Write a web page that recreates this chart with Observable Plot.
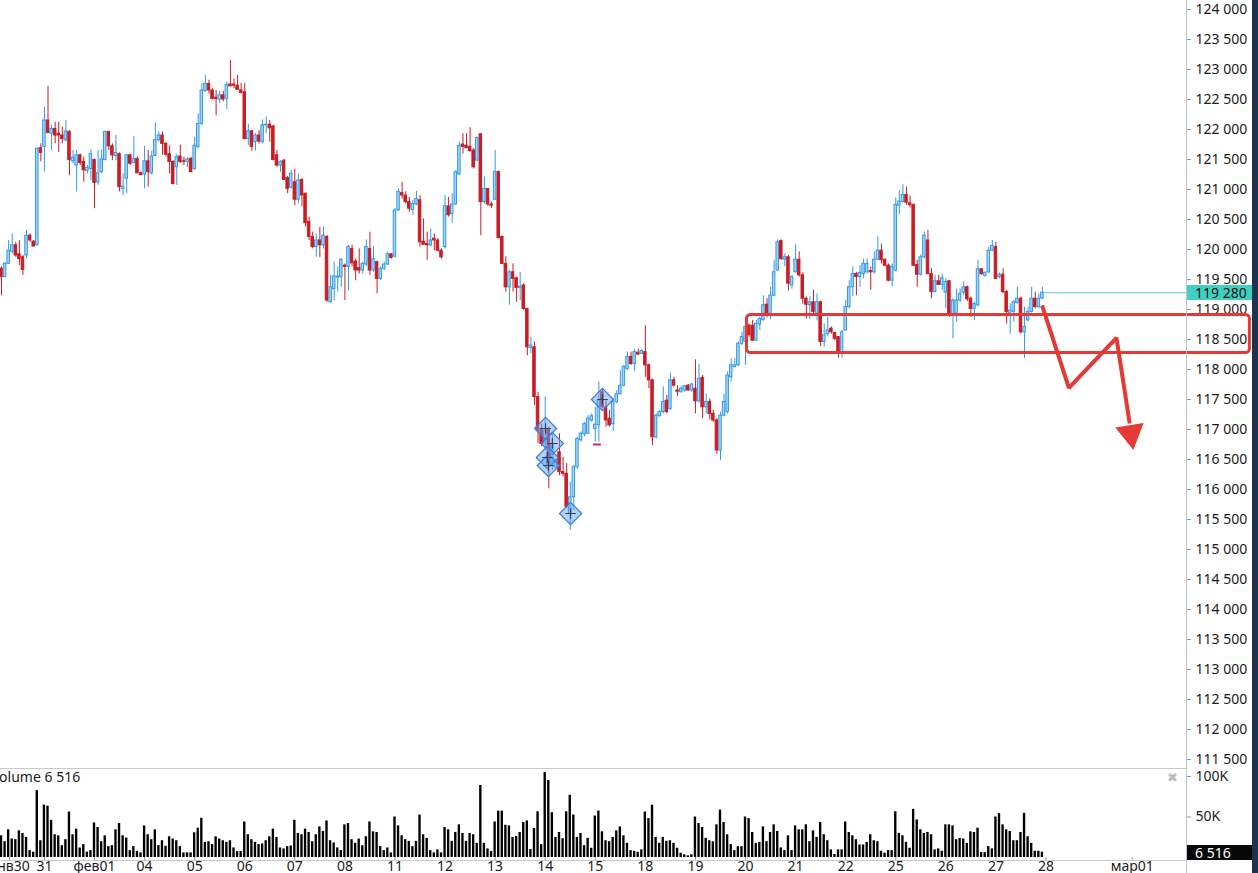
<!DOCTYPE html>
<html><head><meta charset="utf-8">
<script src="https://cdn.jsdelivr.net/npm/d3@7"></script>
<script src="https://cdn.jsdelivr.net/npm/@observablehq/plot@0.6"></script>
<style>
html,body{margin:0;padding:0;background:#fff;overflow:hidden}
#wrap{position:relative;width:1258px;height:873px;overflow:hidden;font-family:"Noto Sans",sans-serif;color:#1b1b1b}
#wrap svg{display:block}
.ov{position:absolute;white-space:nowrap}
</style></head><body><div id="wrap"></div>
<script>
// ---------- data (hourly candles, index 0..291) ----------
const open = [
119680,119540,119760,119960,120070,119920,119870,119900,120230,120130,
120070,121690,121710,122150,121930,122010,121930,121900,121820,121960,
121470,121400,121570,121460,121310,121340,121490,121120,121290,121490,
121960,121720,121560,121590,121010,121180,121570,121440,121510,121270,
121250,121470,121270,121560,121820,121900,121760,121590,121460,121370,
121550,121470,121460,121510,121340,121710,122090,122640,122760,122650,
122530,122500,122570,122510,122750,122750,122730,122650,122620,121840,
121970,121790,121900,121790,122070,122080,122050,121570,121400,121480,
121190,121030,121120,120830,121160,120930,120460,120210,120040,120150,
120070,120210,119120,119340,119530,119540,119730,119710,120010,119800,
119690,119650,119750,120010,119650,119790,119510,119680,119750,119920,
119880,120650,120940,120900,120790,120660,120750,120820,120130,120090,
120070,120180,120150,119980,120040,120720,120590,120750,121250,121750,
121730,121710,121650,121480,121920,120790,121010,120750,120830,121290,
120210,119760,119370,119620,119520,119360,119400,119010,118360,118370,
117540,117010,116760,117010,116400,116370,116620,116290,116260,115590,
115870,116370,116820,116920,116930,117150,117010,117070,117620,117370,
117180,117090,117460,117590,117730,118010,118210,118090,118280,118260,
118290,118070,117820,116870,117220,117290,117480,117340,117820,117650,
117620,117650,117730,117650,117680,117470,117860,117370,117460,117260,
117150,116650,117230,117290,117870,118040,118070,118430,118460,118730,
118730,118480,118750,118820,119080,118900,119230,119650,120140,119830,
119870,119400,119620,119830,119570,119180,119070,119120,118930,119120,
118460,118590,118680,118610,118540,118260,118650,119040,119370,119590,
119540,119590,119620,119640,119620,119830,119980,119830,119730,119480,
119650,120730,120790,120910,120770,120740,119740,119580,119870,120150,
119590,119290,119470,119410,119280,119470,118900,118930,119150,119280,
119370,119180,119010,119070,119670,119560,119620,119980,120040,119540,
119580,119290,118930,118960,119110,119180,118620,118820,118960,119180,
119040,119180];
const high = [
119710,119790,120150,120260,120120,120150,119900,120320,120260,120150,
121690,121760,122370,122720,122070,122120,122120,122040,122150,121980,
121650,121650,121590,121540,121400,121660,121510,121650,121660,121970,
121970,121760,121900,121610,121260,121570,121590,121880,121540,121290,
121720,121650,121640,122110,121960,121960,121790,121730,121480,121580,
121740,121540,121530,121540,121870,122260,122760,122900,122820,122680,
122650,122640,122640,122790,123150,122840,122900,122770,122770,122090,
121980,121930,121980,122160,122210,122150,122070,121650,121480,121500,
121220,121320,121340,121260,121180,120940,120540,120290,120260,120370,
120380,120230,119570,119790,119710,119840,119760,120070,120070,119840,
120010,119790,120160,120290,120050,119790,119710,119790,119960,119930,
120680,121010,121120,120960,120870,120820,120970,120900,120510,120290,
120340,120260,120180,120010,120900,120870,120930,121310,121790,121930,
121930,122030,121680,121870,121930,121210,121010,120790,121650,121310,
120220,119880,119650,119760,119540,119620,119430,119010,118540,118460,
117620,117090,117540,117040,116930,116510,116930,116540,116430,116120,
116400,116870,116960,117120,117230,117260,117370,117790,117680,117480,
117320,117510,117650,117980,118070,118290,118290,118340,118340,118330,
118730,118090,117840,117260,117320,117710,117570,117940,117870,117730,
117720,117730,117750,117770,118160,118090,117900,117590,117510,117320,
117180,117290,117590,117960,118180,118180,118460,118620,118760,118760,
118820,118820,118870,119230,119180,119370,119820,120160,120160,119930,
119900,119570,120080,119960,119610,119210,119210,119320,119260,119140,
118760,118870,118710,118620,118550,118650,119150,119480,119710,119620,
119730,119840,119840,119710,119960,120210,120090,119840,119760,119760,
120860,120980,121080,121040,120890,120760,119820,119910,120290,120320,
119680,119570,119570,119590,119510,119480,119180,119340,119340,119460,
119390,119210,119120,119820,119680,119630,120040,120150,120120,119610,
119680,119320,119090,119150,119370,119210,119040,119040,119370,119290,
119260,119370];
const low = [
119230,119530,119750,119930,119870,119730,119570,119840,120120,120040,
120060,121460,121290,121930,121650,121760,121620,121760,121790,121230,
121430,120960,121400,121120,121260,121150,120680,121070,121260,121480,
121650,121480,121480,120960,120900,120930,121400,121430,121260,121230,
121010,121040,121240,121540,121790,121570,121540,121260,121080,121070,
121430,121400,121370,121280,121320,121680,122070,122620,122590,122490,
122230,122430,122460,122330,122710,122680,122650,122590,121830,121730,
121640,121640,121760,121760,121930,121790,121480,121370,121290,121150,
120930,121010,120730,120760,120710,120370,120150,120010,119870,119870,
120010,119120,119110,119150,119290,119370,119150,119310,119710,119480,
119590,119590,119720,119570,119620,119260,119480,119650,119730,119840,
119860,120640,120840,120760,120620,120570,120730,120040,120070,119820,
120040,119980,119960,119840,120010,120540,120440,120730,121230,121590,
121680,121620,121340,121470,120230,120760,120720,120680,120820,120180,
119750,119290,119070,119290,119120,119150,118980,118230,118260,117400,
116760,116710,116650,116010,116320,116340,116230,116210,115680,115320,
115650,116340,116790,116880,116920,117120,116790,116790,117340,117040,
117040,116970,117430,117570,117710,117980,118070,117970,118230,118250,
117870,117680,116730,116840,117210,117260,117260,117320,117710,117550,
117610,117620,117640,117620,117260,117440,117180,117260,117160,117120,
116590,116480,117210,117260,117790,118030,118050,118400,118070,118540,
118470,118470,118650,118810,118860,118830,119210,119640,119820,119710,
119310,119340,119610,119540,119090,118840,118830,118930,118810,118380,
118370,118550,118590,118480,118190,118190,118640,119010,119210,119230,
119370,119510,119590,119320,119590,119820,119760,119710,119460,119380,
119630,120580,120780,120740,120690,119710,119370,119560,119840,119580,
119180,119280,119400,119320,119010,118870,118510,118790,119120,119230,
119130,118870,118820,119040,119570,119540,119590,119970,119500,119510,
119260,118760,118590,118790,119090,118590,118180,118790,118940,119010,
119010,119170];
const close = [
119540,119760,119980,120070,119900,119840,119660,120230,120150,120050,
121680,121610,122150,121940,122010,121900,121900,121840,121970,121490,
121530,121570,121440,121320,121360,121590,121110,121270,121500,121960,
121720,121570,121610,121040,121050,121570,121430,121510,121270,121240,
121470,121290,121550,121820,121900,121760,121580,121460,121090,121540,
121460,121460,121500,121290,121730,122090,122650,122760,122650,122510,
122510,122570,122500,122740,122720,122730,122660,122610,121840,121970,
121710,121900,121800,122070,122080,122020,121490,121400,121460,121160,
121010,121260,120830,121150,120900,120440,120210,120040,120150,120070,
120230,119150,119370,119550,119550,119830,119710,120040,119770,119650,
119650,119760,120040,119650,119840,119510,119680,119750,119920,119860,
120650,120960,120900,120790,120680,120760,120840,120120,120080,120070,
120150,120150,119980,119870,120720,120570,120750,121290,121730,121710,
121690,121640,121370,121860,120790,121010,120750,120730,121290,120190,
119760,119370,119620,119510,119360,119380,119010,118370,118400,117540,
116980,116760,116980,116400,116760,116460,116290,116260,115710,115870,
116370,116840,116930,117090,117180,117220,117080,117480,117370,117150,
117070,117460,117590,117730,118040,118210,118090,118290,118250,118310,
118070,117820,116870,117230,117290,117460,117290,117820,117730,117630,
117680,117720,117650,117750,117470,117840,117370,117460,117260,117150,
116650,117230,117460,117900,118070,118070,118430,118540,118710,118570,
118480,118760,118840,119070,118900,119230,119620,120120,119840,119870,
119430,119540,119830,119570,119180,119080,119120,118960,119120,118460,
118570,118650,118620,118510,118260,118620,119040,119370,119590,119540,
119610,119760,119760,119620,119830,119980,119820,119730,119480,119710,
120740,120800,120910,120780,120740,119730,119580,119870,120230,119590,
119290,119470,119410,119520,119460,118900,119150,119150,119260,119370,
119170,119010,119090,119670,119590,119610,119980,120060,119510,119580,
119290,118960,118980,119120,119180,118620,118710,118960,119180,119040,
119180,119280];
const volume = [
26800,19500,34200,22800,22000,32900,29700,24800,8500,6500,
82500,20700,64600,63400,45900,28100,26800,14600,22000,56100,
28100,35000,11800,15900,6500,8500,42700,37000,19500,26800,
13400,14600,34200,41900,26800,24000,8500,13400,7700,5700,
39000,28100,22000,34200,14600,20700,13800,25600,22800,20700,
13400,5700,5700,5700,30500,36200,48400,18700,19500,15900,
25600,22800,20700,18700,20700,11800,7300,7300,43900,28100,
22000,18700,15900,16700,20700,25600,35000,24800,11800,10600,
13400,14200,45900,29700,28100,35000,30900,19500,28100,37800,
32100,45100,20700,17900,11800,8500,40300,41900,22000,17500,
22800,14600,25600,43900,31700,30900,13400,8500,11800,5700,
50000,39000,
26800,22000,19900,13400,19900,52400,28100,23600,
8500,5700,9400,5700,37000,34200,19900,30900,40300,29700,
19900,29700,28100,17500,89000,17500,10600,7300,43900,57300,
57300,39800,39000,24800,26000,30900,43100,45100,9800,35800,
56500,15900,104900,95100,55300,24800,30900,23200,56500,76800,
52400,24800,29700,14600,23600,11400,51200,57300,31700,20700,
19500,24800,32900,37800,26800,17500,8500,7700,6500,9400,
56100,48000,64600,24800,17500,24800,19900,20700,17500,11400,
5300,3300,2000,3300,50000,41900,37000,23600,20700,19500,
40300,58500,43100,28100,15900,8500,13400,13400,50000,48000,
30900,17500,18700,37800,19500,30900,40300,32100,11800,8500,
26800,8500,39000,34200,
34200,40300,19500,32900,24800,43100,28100,20700,9400,3700,
9400,9400,43900,30900,26800,22000,15500,15500,18700,28100,
20700,19500,7700,5300,8500,8500,56500,29700,26800,18700,
11400,59400,46300,34200,29700,30900,28100,9400,10600,7700,
40300,40300,39000,22000,23600,22800,17500,31700,30900,36200,
6100,6100,13400,10600,50000,54100,40300,34200,32100,20700,
20700,30900,54500,25600,17500,7700,7700,6516];

const dayLabels = ["янв30","31","фев01","04","05","06","07","08","11","12","13","14","15","18","19","20","21","22","25","26","27","28","мар01"];
const dayTickIdx = [2.2,12,26,40,54,68,82,96,110,124,138,152,166,180,194,208,222,236,250,264,278,292,316.1];
const priceTicks = d3.range(111500, 124001, 500);
const volTicks = [50000, 100000];
const lastPrice = 119280;
const lastVolume = 6516;

// signal markers (diamonds) : bar index & price
const markIdx   = [152.1, 154.0, 152.6, 152.9, 159.1, 168.0];
const markPrice = [117017, 116767, 116533, 116400, 115600, 117500];
// small red dash
const dashIdx = [165.5, 167.7];
const dashPrice = 116750;
// drawn annotations: support zone and forecast arrow
const zoneIdx = [208.4, 349];
const zonePrice = [118910, 118275];
const arrowIdx = [290.9, 298.4, 311.7, 315.4];
const arrowPrice = [119067, 117695, 118528, 117100];
const headIdx = 315.7, headPrice = 116933, headRotate = 171;

// ---------- build ----------
const W = 1258, PRICE_H = 768, VOL_H = 105, MR = 72;
const xDomain = [-0.28, 331.28];
const priceDomain = [111350, 124150];
const RED = "#c91d25", BLUE = "#3399e6", BLUE_FILL = "#a8d4f6";
const fmt = d => d3.format(",")(d).replace(/,/g, " ");

const candles = open.map((o, i) => ({i, open: o, high: high[i], low: low[i], close: close[i], up: close[i] >= o}));
const ups = candles.filter(d => d.up), downs = candles.filter(d => !d.up);
const bars = volume.map((v, i) => ({i, v}));
const marks = markIdx.map((x, k) => ({x, y: markPrice[k]}));
const arrow = arrowIdx.map((x, k) => ({x, y: arrowPrice[k]}));
const labelMap = new Map(dayTickIdx.map((t, k) => [t, dayLabels[k]]));
const lastIdx = candles.length - 1;

const baseStyle = {fontFamily: "Noto Sans, sans-serif", fontSize: "14px", color: "#1b1b1b", background: "transparent"};

const price = Plot.plot({
  width: W, height: PRICE_H, marginLeft: 0, marginRight: MR, marginTop: 0, marginBottom: 0,
  x: {domain: xDomain, axis: null},
  y: {domain: priceDomain, axis: null},
  style: baseStyle,
  marks: [
    Plot.axisY({anchor: "right", label: null, ticks: priceTicks, tickFormat: fmt, tickSize: 4, tickPadding: 5, stroke: "#9a9a9a", fill: "#1b1b1b", fontSize: 14}),
    Plot.ruleX(downs, {x: "i", y1: "low", y2: "high", stroke: RED, strokeWidth: 1}),
    Plot.rect(downs, {x1: d => d.i - 0.35, x2: d => d.i + 0.35, y1: "open", y2: "close", fill: RED, stroke: RED, strokeWidth: 1}),
    Plot.ruleX(ups, {x: "i", y1: "low", y2: "high", stroke: BLUE, strokeWidth: 1}),
    Plot.rect(ups, {x1: d => d.i - 0.35, x2: d => d.i + 0.35, y1: "open", y2: "close", fill: BLUE_FILL, stroke: BLUE, strokeWidth: 1}),
    Plot.ruleY([dashPrice], {x1: dashIdx[0], x2: dashIdx[1], stroke: "#d8245c", strokeWidth: 2}),
    Plot.dot(marks, {x: "x", y: "y", symbol: "diamond2", r: 10, fill: "#64a6f0", fillOpacity: 0.5, stroke: "#3b7ad6", strokeWidth: 1.2}),
    Plot.dot(marks, {x: "x", y: "y", symbol: "plus", r: 3.5, stroke: "#3a3f5c", strokeWidth: 1.2}),
    Plot.ruleY([lastPrice], {x1: lastIdx + 0.6, x2: xDomain[1], stroke: "#5cc9d6", strokeWidth: 1}),
    Plot.rect([0], {x1: zoneIdx[0], x2: zoneIdx[1], y1: zonePrice[0], y2: zonePrice[1], fill: "none", stroke: "#e53935", strokeWidth: 3, rx: 4}),
    Plot.line(arrow, {x: "x", y: "y", stroke: "#e53935", strokeWidth: 4, strokeLinejoin: "miter", strokeLinecap: "butt"}),
    Plot.dot([0], {x: headIdx, y: headPrice, symbol: "triangle", r: 10, fill: "#e53935", stroke: "#e53935", strokeWidth: 1, rotate: headRotate})
  ]
});

const vol = Plot.plot({
  width: W, height: VOL_H, marginLeft: 0, marginRight: MR, marginTop: 8, marginBottom: 16,
  x: {domain: xDomain, axis: null},
  y: {domain: [0, 100000], axis: null},
  style: baseStyle,
  marks: [
    Plot.rect(bars, {x1: d => d.i - 0.33, x2: d => d.i + 0.33, y1: 0, y2: "v", fill: "#000"}),
    Plot.axisY({anchor: "right", label: null, ticks: volTicks, tickFormat: d => d / 1000 + "K", tickSize: 4, tickPadding: 5, stroke: "#9a9a9a", fill: "#1b1b1b", fontSize: 14}),
    Plot.axisX({anchor: "bottom", label: null, ticks: dayTickIdx, tickFormat: d => labelMap.get(d), tickSize: 3, tickPadding: 1, stroke: "#9a9a9a", fill: "#1b1b1b", fontSize: 14})
  ]
});

const wrap = document.getElementById("wrap");
wrap.appendChild(price);
wrap.appendChild(vol);

const xs = price.scale("x"), ys = price.scale("y"), vs = vol.scale("y");
const axisX = xs.apply(xDomain[1]);
function ov(css, html) {
  const d = document.createElement("div");
  d.className = "ov";
  d.style.cssText = css;
  if (html != null) d.innerHTML = html;
  wrap.appendChild(d);
  return d;
}
// panel lines
ov(`left:${axisX}px;top:0;width:1px;height:873px;background:#c4c4c4`);
ov(`left:0;top:${PRICE_H}px;width:${axisX}px;height:1px;background:#c8c8c8`);
ov(`left:0;top:${PRICE_H + VOL_H - 13}px;width:${axisX}px;height:1px;background:#c8c8c8`);
// volume title and close icon
ov(`left:-9px;top:769px;font-size:14px;line-height:16px;color:#1b1b1b`, "Volume " + fmt(lastVolume));
ov(`left:${axisX - 19}px;top:770px;font-size:13px;line-height:16px;color:#bdbdbd;font-family:'DejaVu Sans'`, "✖");
// last price / last volume badges
const py = ys.apply(lastPrice);
ov(`left:${axisX + 1}px;top:${py - 7.5}px;width:66px;height:15px;background:#3fd0c2;font-size:14px;line-height:15px;padding-left:8px;box-sizing:border-box;color:#111`, fmt(lastPrice));
const vy = PRICE_H + vs.apply(lastVolume);
ov(`left:${axisX + 1}px;top:${vy - 7}px;width:66px;height:15px;background:#080808;font-size:14px;line-height:15px;padding-left:8px;box-sizing:border-box;color:#fff`, fmt(lastVolume));
// window edge
ov(`left:1252px;top:0;width:6px;height:873px;background:#1d3450`);
</script></body></html>
